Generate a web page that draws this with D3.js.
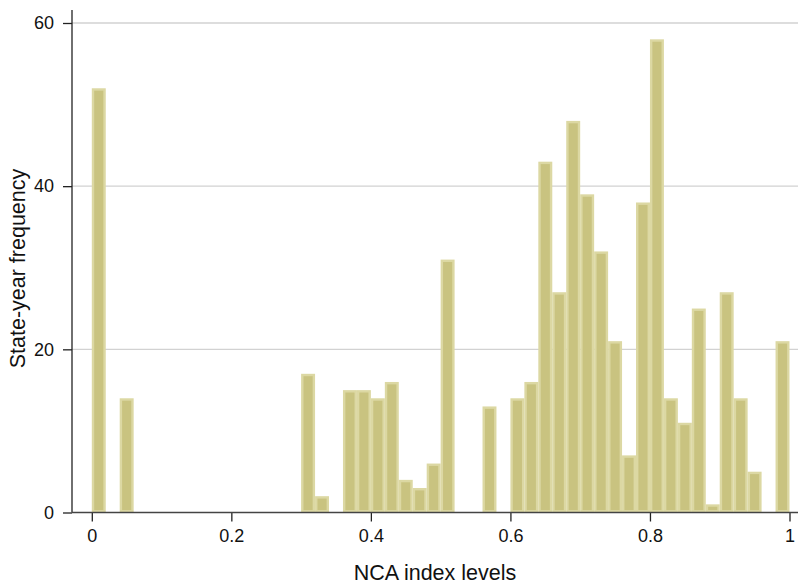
<!DOCTYPE html>
<html>
<head>
<meta charset="utf-8">
<script src="https://cdn.jsdelivr.net/npm/d3@7/dist/d3.min.js"></script>
<style>
  html, body { margin: 0; padding: 0; background: #fff; }
  svg { display: block; font-family: "Liberation Sans", Arial, Helvetica, sans-serif; }
</style>
</head>
<body>
<svg id="chart" width="798" height="585"></svg>
<script>
// Histogram of NCA index levels: lower edge of each 0.02-wide bin and its count
const binWidth = 0.02;
const binLower = [
  0.00, 0.02, 0.04, 0.06, 0.08, 0.10, 0.12, 0.14, 0.16, 0.18,
  0.20, 0.22, 0.24, 0.26, 0.28, 0.30, 0.32, 0.34, 0.36, 0.38,
  0.40, 0.42, 0.44, 0.46, 0.48, 0.50, 0.52, 0.54, 0.56, 0.58,
  0.60, 0.62, 0.64, 0.66, 0.68, 0.70, 0.72, 0.74, 0.76, 0.78,
  0.80, 0.82, 0.84, 0.86, 0.88, 0.90, 0.92, 0.94, 0.96, 0.98
];
const counts = [
  52, 0, 14, 0, 0, 0, 0, 0, 0, 0,
  0, 0, 0, 0, 0, 17, 2, 0, 15, 15,
  14, 16, 4, 3, 6, 31, 0, 0, 13, 0,
  14, 16, 43, 27, 48, 39, 32, 21, 7, 38,
  58, 14, 11, 25, 1, 27, 14, 5, 0, 21
];
const xTicks = [0, 0.2, 0.4, 0.6, 0.8, 1];
const xTickLabels = ["0", "0.2", "0.4", "0.6", "0.8", "1"];
const yTicks = [0, 20, 40, 60];
const yTickLabels = ["0", "20", "40", "60"];
const xTitle = "NCA index levels";
const yTitle = "State-year frequency";

const svg = d3.select("#chart");
const W = 798;
const axisX = 72, axisTop = 10, baseY = 512.5;
const tickFont = "18px", titleFont = "21.5px";

const x = d3.scaleLinear().domain([0, 1]).range([91.8, 789.5]);
const y = d3.scaleLinear().domain([0, 60]).range([baseY, 23]);

// horizontal gridlines
svg.append("g")
  .selectAll("line")
  .data(yTicks.filter(d => d > 0))
  .join("line")
  .attr("x1", axisX).attr("x2", W)
  .attr("y1", d => y(d)).attr("y2", d => y(d))
  .attr("stroke", "#d2d2d2")
  .attr("stroke-width", 1.3);

// bars: light outline drawn inside the bin edges
const bins = binLower.map((lo, i) => ({ lo, hi: lo + binWidth, n: counts[i] }))
  .filter(d => d.n > 0);
const sw = 2.4;
svg.append("g")
  .selectAll("rect")
  .data(bins)
  .join("rect")
  .attr("x", d => x(d.lo) + sw / 2)
  .attr("y", d => y(d.n) + sw / 2)
  .attr("width", d => x(d.hi) - x(d.lo) - sw)
  .attr("height", d => Math.max(0, y(0) - y(d.n) - sw))
  .attr("fill", "#c9c380")
  .attr("stroke", "#dcd8a3")
  .attr("stroke-width", sw);

// y axis
const yAxis = d3.axisLeft(y)
  .tickValues(yTicks)
  .tickFormat((d, i) => yTickLabels[i])
  .tickSize(9)
  .tickPadding(9);
const gy = svg.append("g").attr("transform", `translate(${axisX},0)`).call(yAxis);
gy.select(".domain").remove();
gy.append("line")
  .attr("x1", 0).attr("x2", 0)
  .attr("y1", axisTop).attr("y2", baseY)
  .attr("stroke", "#222").attr("stroke-width", 1.3);
gy.selectAll(".tick line").attr("stroke", "#222").attr("stroke-width", 1.3);
gy.selectAll(".tick text")
  .attr("font-size", tickFont)
  .attr("font-family", "'Liberation Sans', Arial, sans-serif")
  .attr("fill", "#111");

// x axis
const xAxis = d3.axisBottom(x)
  .tickValues(xTicks)
  .tickFormat((d, i) => xTickLabels[i])
  .tickSize(9)
  .tickPadding(8);
const gx = svg.append("g").attr("transform", `translate(0,${baseY})`).call(xAxis);
gx.select(".domain").remove();
gx.append("line")
  .attr("x1", axisX).attr("x2", W)
  .attr("y1", 0).attr("y2", 0)
  .attr("stroke", "#444").attr("stroke-width", 1.3);
gx.selectAll(".tick line").attr("stroke", "#222").attr("stroke-width", 1.3);
gx.selectAll(".tick text")
  .attr("font-size", tickFont)
  .attr("font-family", "'Liberation Sans', Arial, sans-serif")
  .attr("fill", "#111");

// axis titles
svg.append("text")
  .attr("x", 435).attr("y", 580)
  .attr("text-anchor", "middle")
  .attr("font-size", titleFont)
  .attr("fill", "#111")
  .text(xTitle);

svg.append("text")
  .attr("transform", "translate(25,268.5) rotate(-90)")
  .attr("text-anchor", "middle")
  .attr("font-size", titleFont)
  .attr("fill", "#111")
  .text(yTitle);
</script>
</body>
</html>
